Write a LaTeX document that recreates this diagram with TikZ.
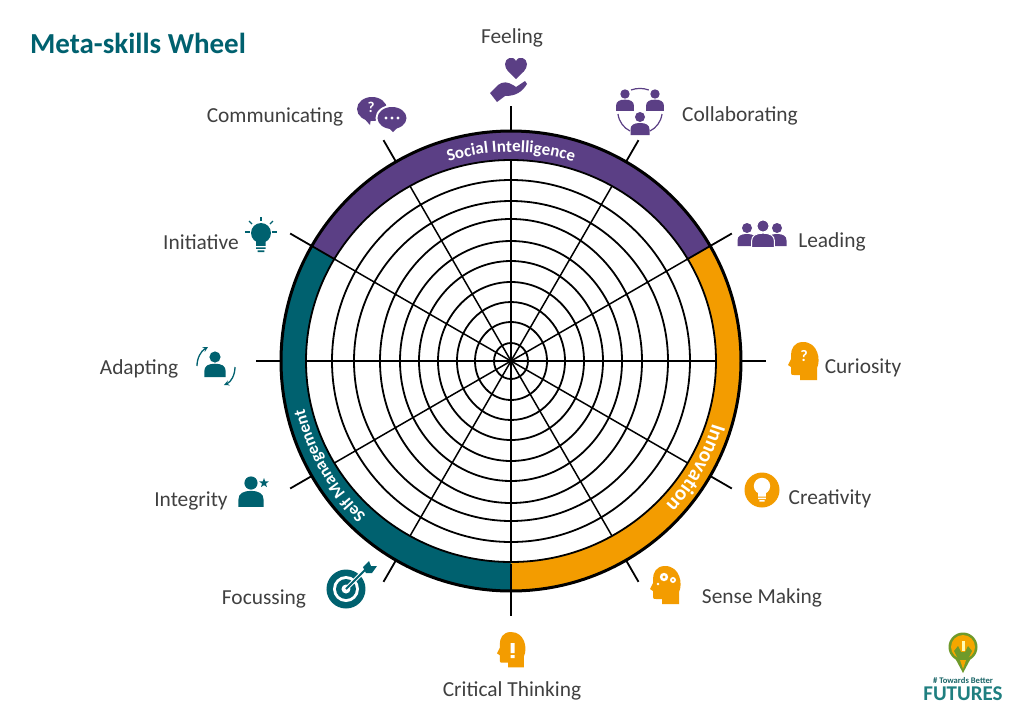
\documentclass[tikz,border=0pt]{standalone}
\usepackage{fontspec}
\setmainfont{Carlito}
\usetikzlibrary{decorations.text,shapes.geometric}
\definecolor{socialc}{HTML}{5B3F85}
\definecolor{selfc}{HTML}{00616F}
\definecolor{innovc}{HTML}{F39C00}
\definecolor{labelc}{HTML}{404040}
\definecolor{logogreen}{HTML}{6F9A2A}
\definecolor{logoteal}{HTML}{1F7F80}
\tikzset{
  icons/.style={shift={(-511,361)},x=1pt,y=-1pt},
  spoke/.style={line width=1.5pt,black},
  ring/.style={line width=1.8pt,black},
  label/.style={font=\fontsize{21.4}{24}\selectfont,text=labelc,inner sep=0pt},
  thinline/.style={line width=1.3pt,>=stealth},
}
% head seen from the side, looking left
\newcommand{\headicon}[3]{\fill[shift={(#1,#2)},scale=#3] (29,38) -- (29,26) .. controls (33,18) and (30,0) .. (15,0) .. controls (6,0) and (3,7) .. (3,13) -- (3,17) -- (0,23) -- (3,25) -- (3,31) .. controls (3,33) and (4,33) .. (6,33) -- (12,33) -- (12,38) -- cycle;}
\newcommand{\person}[4][]{\fill[shift={(#2,#3)},scale=#4,#1] (0,0) circle (1) (-1.9,3.6) -- (-1.9,2.5) .. controls (-1.9,1.6) and (-1.2,1.2) .. (0,1.2) .. controls (1.2,1.2) and (1.9,1.6) .. (1.9,2.5) -- (1.9,3.6) -- cycle;}
\newcommand{\bulb}[4][]{\fill[shift={(#2,#3)},scale=#4,#1] (-1.05,0) arc (180:-180:1.05) (-.5,.9) rectangle (.5,1.35) (-.5,1.5) rectangle (.5,1.68) (-.35,1.82) rectangle (.35,2);}
\begin{document}
\begin{tikzpicture}[x=1pt,y=1pt]
\useasboundingbox (-511,-363) rectangle (513,361);
\fill [white] (-511,-363) rectangle (513,361);
\coordinate(O) at (0,0);
% coloured band
\fill [socialc] (O) -- (150:230) arc [start angle=150,end angle=30,radius=230] --cycle;
\fill [innovc] (O) -- (30:230) arc [start angle=30,end angle=-90,radius=230] --cycle;
\fill [selfc] (O) -- (-90:230) arc [start angle=-90,end angle=-210,radius=230] --cycle;
\draw [ring,fill=white] (O) ellipse [x radius=205,y radius=201];
\foreach \rx/\ry in {17/18, 36/39, 54/59, 73/79, 92/100, 111/120, 131/142, 157/160, 179/181}
  \draw [ring] (O) ellipse [x radius=\rx,y radius=\ry];
\draw [line width=3pt] (O) circle (230);
% spokes and their ticks outside the band
\begin{scope}
\clip (O) ellipse [x radius=205,y radius=201];
\foreach \a in {0,30,...,330} \draw [spoke] (O) -- (\a:210);
\end{scope}
\foreach \a in {0,30,...,330} \draw [spoke,line width=1.8pt] (\a:230) -- (\a:255);
\foreach \a in {30,150,270} \draw [spoke,line width=1.8pt] (\a:203) -- (\a:230);
\path [decorate,decoration={text along path,text align=center,text={|\fontsize{17}{17}\selectfont\bfseries\color{white}|Social Intelligence}}]
  (150:209) arc [start angle=150,end angle=30,radius=209];
\path [decorate,decoration={text along path,text align=center,text={|\fontsize{21}{21}\selectfont\bfseries\color{white}|Innovation}}]
  (30:211) arc [start angle=30,end angle=-90,radius=211];
\path [decorate,decoration={text along path,text align=center,text={|\fontsize{17}{17}\selectfont\bfseries\color{white}|Self Management}}]
  (270:212) arc [start angle=270,end angle=150,radius=212];
\begin{scope}[icons]
\node (title) [inner sep=0pt,text=selfc,font=\fontsize{29}{32}\selectfont\bfseries] at (138,43) {Meta-skills Wheel};
\foreach \lname/\x/\y/\ltext in {feeling/512/38/Feeling, communicating/275/117/Communicating, collaborating/740/116/Collaborating, initiative/201/242/Initiative, leading/832/242/Leading, adapting/139/369/Adapting, curiosity/863/368/Curiosity, integrity/191/501/Integrity, creativity/830/499/Creativity, focussing/264/599/Focussing, sensemaking/762/598/Sense Making, critical/512/691/Critical Thinking}
  \node (\lname) [label] at (\x,\y) {\ltext};
\begin{scope}[color=socialc]
% feeling
\fill (516,79) .. controls (510,73) and (505,70) .. (505,64) .. controls (505,58) and (513,55) .. (516,61) .. controls (519,55) and (527,58) .. (527,64) .. controls (527,70) and (522,73) .. (516,79) --cycle;
\fill (490,93) -- (498,85) .. controls (503,81) and (508,82) .. (513,85) -- (516,87) -- (525,81) -- (527,84) .. controls (522,92) and (516,96) .. (505,96) -- (497,102) --cycle;
% communicating
\fill (372,109) ellipse (15 and 12);
\fill (362,116) -- (370,125) -- (371,118) --cycle;
\fill [white] (392,118) ellipse (16.5 and 13);
\fill (392,118) ellipse (14.5 and 11);
\fill (388,127) -- (393,132) -- (398,127) --cycle;
\node (askmark) [white,font=\fontsize{15}{15}\selectfont\bfseries,inner sep=0pt] at (371,107) {?};
\foreach \x in {386,392,398} \fill [white] (\x,118) circle (1.7);
% collaborating
\draw [line width=1.2pt] (631,90) arc [start angle=-110,end angle=-70,radius=26];
\draw [line width=1.2pt] (618,114) .. controls (619,122) and (624,128) .. (630,131);
\draw [line width=1.2pt] (662,114) .. controls (661,122) and (656,128) .. (650,131);
\person{625}{94}{4.7}
\person{655}{94}{4.7}
\person{640}{117}{5}
% leading
\person{747}{228}{5}
\person{777}{228}{5}
\person[draw=white,line width=1pt]{763}{226}{6}
\end{scope}
\begin{scope}[color=selfc]
% initiative
\bulb{261}{233}{9.5}
\foreach \x/\y/\u/\v in {261/217/261/221, 249/221/252/224, 273/221/270/224, 245/232/250/232, 272/232/277/232}
  \draw [line width=1.2pt] (\x,\y) -- (\u,\v);
% adapting
\person{215}{357}{5.6}
\draw [thinline,->] (197,366) .. controls (197,358) and (201,351) .. (208,347);
\draw [thinline,->] (235,367) .. controls (235,375) and (231,382) .. (224,385);
% integrity
\person{251}{483}{6.6}
\node (integritystar) [star,star points=5,star point ratio=2.4,fill,inner sep=0pt,minimum size=10pt] at (264,483) {};
% focussing
\fill (346,589) circle (19.5);
\fill [white] (346,589) circle (13);
\fill (346,589) circle (10);
\fill [white] (346,589) circle (4.5);
\draw [white,line width=4pt] (346,589) -- (363,572);
\draw [line width=1.8pt] (346,589) -- (366,569);
\fill (363,567) -- (369,561) -- (371,566) -- (377,566) -- (372,573) -- (366,573) --cycle;
\end{scope}
\begin{scope}[color=innovc]
% curiosity
\headicon{788}{342}{1}
\node (whatmark) [white,font=\fontsize{16}{16}\selectfont\bfseries,inner sep=0pt] at (804,356) {?};
% creativity
\fill (762,490) circle (17.5);
\bulb[white]{762}{486}{7.8}
% sense making
\headicon{650}{566}{1}
\fill [white] (664,577) circle (4.2);
\fill (664,577) circle (1.6);
\fill [white] (673,580) circle (3);
\fill (673,580) circle (1.1);
\fill [white] (658,584) circle (1.3);
% critical thinking
\headicon{497}{632}{.93}
\fill [white] (510.5,643) rectangle (514.5,653) (510.5,655) rectangle (514.5,658);
\end{scope}
% logo
\fill [logogreen] (963,647) circle (14.5);
\fill [logogreen] (955,658) -- (971,658) -- (963,673) --cycle;
\fill [innovc!90!yellow] (963,647) circle (12);
\fill [innovc!90!yellow] (960,660) -- (966,660) -- (963,669) --cycle;
\fill [logogreen] (954,651) -- (958,646) -- (961,652) -- (965,652) -- (968,646) -- (972,651) -- (968,659) -- (958,659) --cycle;
\fill [white!70!yellow] (961.5,641) rectangle (964.5,651);
\node (logotop) [inner sep=0pt,text=logoteal!80!black,font=\fontsize{8.6}{9}\selectfont\bfseries] at (963,680.5) {\#~Towards Better};
\node (logobottom) [inner sep=0pt,text=logoteal,font=\fontsize{21}{21}\selectfont\bfseries] at (963,693.5) {FUTURES};
\end{scope}
\end{tikzpicture}
\end{document}
